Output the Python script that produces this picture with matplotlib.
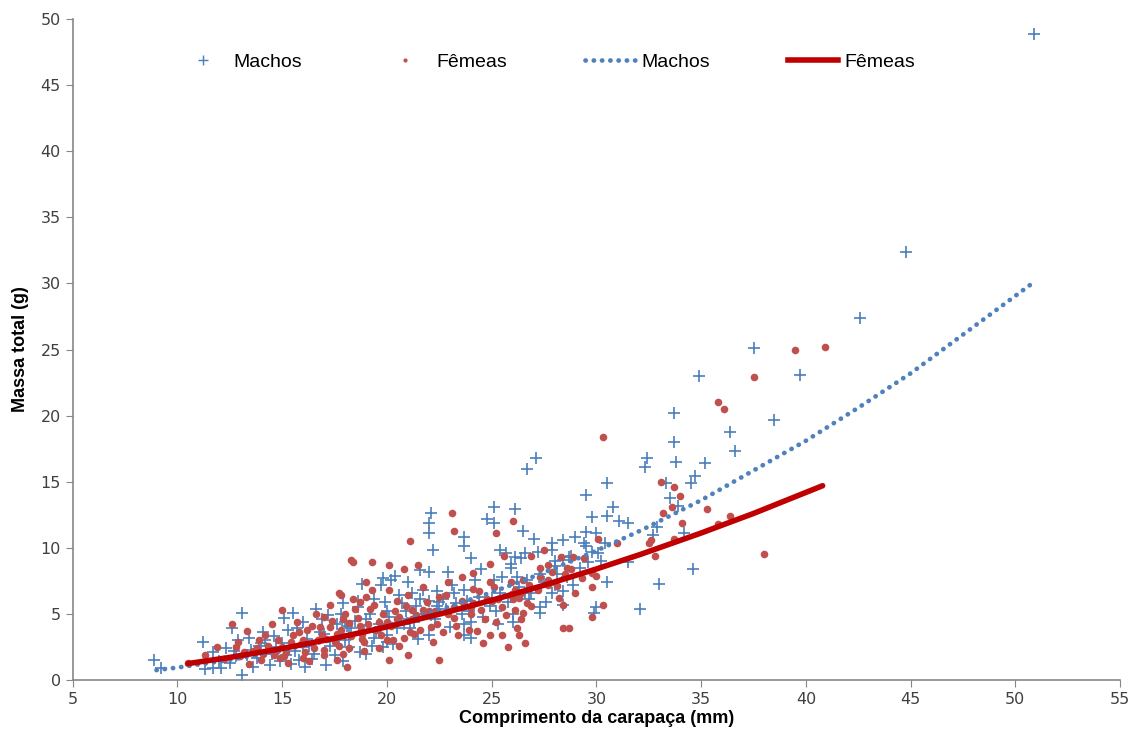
import matplotlib
matplotlib.use("Agg")
import matplotlib.pyplot as plt
from matplotlib.lines import Line2D

# carapace length (mm) / total mass (g) for males
machos_cc = [
    50.9, 44.8, 42.6, 37.5, 34.9, 39.7, 38.5, 33.7, 36.4, 33.7, 36.6, 32.4, 32.3, 33.8,
    35.2, 34.7, 34.5, 33.3, 33.5, 33.9, 32.9, 32.7, 34.2, 34.6, 33.0, 32.1, 27.1, 26.7,
    30.5, 29.5, 30.8, 29.8, 30.5, 31.1, 31.5, 26.5, 27.0, 27.9, 28.4, 29.0, 29.5, 30.0,
    29.4, 29.8, 30.1, 30.4, 31.5, 27.2, 27.9, 28.4, 28.7, 29.2, 27.9, 28.4, 28.9, 28.4,
    27.3, 27.6, 26.8, 27.3, 30.5, 30.0, 29.9,
    22.1, 22.0, 22.0, 22.2, 25.1, 26.1, 24.8, 25.1, 23.7, 23.7, 24.0, 25.4, 25.7, 26.1,
    26.4, 25.9, 22.9, 22.0, 21.6, 21.0, 20.4, 20.2, 19.8, 19.7, 18.8, 24.2, 25.1, 25.5,
    26.2, 26.7, 25.9, 23.7, 23.2, 22.4, 21.2, 21.6, 22.7, 17.9, 18.6, 19.4, 20.7, 23.7,
    23.7, 25.3, 22.0, 20.0, 19.8, 19.3, 19.0, 17.9, 18.2, 18.2,
    8.9, 9.2, 11.2, 11.3, 11.7, 12.1, 12.5, 11.7, 12.3, 12.6, 13.1, 12.9, 13.1, 13.4,
    14.1, 14.2, 15.1, 15.5, 16.0, 16.6, 15.3, 16.1, 17.1, 14.7, 13.8, 13.6,
    14.5, 15.0, 15.6, 16.2, 16.5, 17.0, 17.3, 17.6, 18.0, 18.5, 18.9, 19.2, 19.6, 20.1,
    20.5, 20.9, 21.3, 21.8, 22.3, 22.8, 23.3, 23.9, 24.4, 24.9, 25.4, 25.8, 26.3, 26.9,
    27.5, 28.1, 28.6, 16.9, 17.8, 18.3, 19.9, 21.4, 22.5, 24.6, 16.4, 15.8, 14.9, 18.7,
    20.3, 21.5, 23.0, 24.0, 26.0, 12.8, 13.5, 14.4, 15.4, 17.5, 19.4, 20.8, 22.1, 23.6,
    25.0, 26.6, 28.0, 29.6, 30.2,
    12.0, 12.7, 13.3, 13.9, 14.6, 15.2, 15.7, 16.3, 16.8, 17.2, 17.7, 18.1, 18.6, 19.0,
    19.5, 20.0, 20.6, 21.1, 21.7, 22.4, 23.1, 23.8, 24.5, 25.2, 25.9, 26.6, 27.3, 28.0,
    28.8, 29.5, 14.0, 16.0, 18.0, 20.0, 22.0, 24.0, 26.0, 28.0,
]
machos_mt = [
    48.9, 32.4, 27.4, 25.1, 23.0, 23.1, 19.7, 20.2, 18.8, 18.0, 17.3, 16.8, 16.1, 16.5,
    16.4, 15.4, 14.9, 14.9, 13.8, 13.2, 11.6, 11.0, 11.1, 8.4, 7.3, 5.4, 16.8, 16.0,
    14.9, 14.0, 13.1, 12.3, 12.4, 12.0, 11.9, 11.3, 10.7, 10.4, 10.6, 10.8, 11.2, 11.1,
    10.4, 9.7, 9.6, 10.4, 8.9, 9.7, 9.8, 9.1, 9.3, 8.5, 6.6, 6.7, 7.2, 5.7,
    5.5, 5.9, 6.1, 5.1, 7.4, 5.5, 5.1,
    12.6, 11.9, 11.1, 9.8, 13.1, 12.9, 12.2, 11.9, 10.8, 10.1, 9.2, 9.8, 9.6, 9.3,
    9.2, 8.8, 8.2, 8.2, 8.3, 7.4, 7.9, 7.6, 7.7, 7.2, 7.3, 7.6, 7.6, 7.8,
    7.8, 7.6, 8.5, 6.8, 6.6, 6.7, 6.6, 6.1, 6.1, 5.8, 5.5, 6.1, 5.8, 4.2,
    3.4, 4.2, 3.4, 3.4, 2.5, 2.6, 2.0, 1.4, 2.5, 3.5,
    1.5, 0.9, 2.9, 0.8, 0.9, 0.9, 1.3, 2.1, 2.4, 3.9, 5.1, 3.0, 0.4, 3.2,
    3.6, 3.0, 4.7, 5.1, 4.4, 5.4, 3.8, 1.0, 1.1, 2.5, 1.7, 1.0,
    2.0, 2.8, 2.2, 3.1, 2.0, 3.5, 2.6, 4.2, 3.0, 4.5, 3.8, 5.0, 4.2, 4.8,
    3.9, 5.2, 4.4, 5.0, 4.6, 5.4, 5.8, 5.2, 6.3, 5.6, 6.6, 5.9, 7.0, 6.6,
    7.4, 8.0, 7.8, 4.6, 5.0, 3.9, 5.9, 5.6, 5.9, 4.8, 1.6, 1.5, 1.4, 2.1,
    2.7, 3.1, 4.0, 4.4, 5.0, 1.8, 2.3, 1.1, 1.2, 1.9, 3.2, 4.2, 4.9, 5.0,
    6.2, 6.6, 8.6, 8.9, 9.0,
    1.4, 2.2, 1.9, 2.6, 3.3, 1.9, 3.9, 2.6, 3.6, 4.9, 3.2, 4.1, 6.0, 4.6,
    3.6, 5.2, 6.4, 3.9, 6.8, 5.6, 7.2, 6.0, 8.4, 5.2, 6.3, 9.6, 8.0, 7.2,
    9.4, 10.1, 2.8, 2.5, 4.4, 2.9, 6.0, 3.2, 4.4, 9.0,
]

# carapace length (mm) / total mass (g) for females
femeas_cc = [
    40.9, 39.5, 37.5, 35.8, 36.1, 30.3, 33.1, 33.7, 34.0, 33.6, 35.3, 33.2, 34.1, 36.4,
    35.8, 32.6, 33.7, 32.8, 38.0, 32.5, 30.1, 31.0, 26.9, 28.3, 28.9, 28.6, 27.9, 27.3,
    29.8, 30.0, 29.8, 29.0, 28.4, 30.3, 29.8, 28.4, 28.7, 26.6, 26.5, 26.7,
    23.1, 23.2, 21.1, 18.3, 18.4, 19.3, 20.1, 20.8, 21.5, 25.2, 26.0, 24.9, 24.1, 22.9,
    19.3, 19.0, 20.1, 17.8, 18.4, 21.9, 24.0, 24.8, 26.0, 26.4, 26.1, 23.9, 24.3, 24.9,
    25.5, 26.2, 26.3, 25.8, 22.5, 21.1, 21.0, 20.1, 18.1, 17.6, 18.8, 18.2, 21.2,
    12.6, 13.3, 14.5, 15.0, 11.9, 11.3, 10.5, 12.8, 17.3, 17.7, 17.0,
    13.0, 13.6, 14.0, 14.3, 14.8, 15.2, 15.5, 15.9, 16.2, 16.5, 16.8, 17.1, 17.4, 17.7,
    18.0, 18.3, 18.6, 18.9, 19.2, 19.5, 19.8, 20.2, 20.5, 20.8, 21.2, 21.6, 22.0, 22.4,
    22.8, 23.2, 23.6, 24.0, 24.4, 24.7, 25.1, 25.5, 25.9, 26.3, 26.8, 27.2, 27.7, 28.1,
    28.5, 29.3, 16.0, 15.3, 14.6, 17.9, 19.6, 20.6, 22.2, 23.4, 25.2, 16.6, 19.0, 21.7,
    23.6, 25.6, 27.5, 13.9, 15.7, 17.0, 18.7, 20.4,
    12.2, 12.9, 13.4, 13.8, 14.2, 14.7, 15.1, 15.4, 15.8, 16.1, 16.4, 16.7, 17.0, 17.3,
    17.6, 17.9, 18.2, 18.5, 18.8, 19.1, 19.4, 19.7, 20.0, 20.3, 20.6, 20.9, 21.3, 21.7,
    22.1, 22.5, 22.9, 23.3, 23.7, 24.1, 24.5, 24.9, 25.3, 25.7, 26.1, 26.5, 26.9, 27.3,
    27.7, 28.2, 28.8, 29.4, 14.1, 15.0, 16.0, 16.9, 17.8, 18.7, 19.6, 20.5, 21.4, 22.3,
    23.2, 24.1, 25.0, 25.9, 26.8, 27.7, 13.2, 14.9, 16.3, 17.5, 18.9, 20.0, 21.0, 22.7,
    24.6, 26.4,
]
femeas_mt = [
    25.2, 25.0, 22.9, 21.0, 20.5, 18.4, 15.0, 14.6, 13.9, 13.1, 12.9, 12.6, 11.9, 12.4,
    11.8, 10.6, 10.7, 9.4, 9.5, 10.4, 10.7, 10.4, 9.4, 9.3, 9.3, 8.5, 8.2, 8.5,
    8.1, 7.9, 7.0, 6.6, 5.7, 5.7, 4.8, 3.9, 3.9, 2.8, 5.1, 5.8,
    12.6, 11.3, 10.5, 9.1, 8.9, 8.9, 8.7, 8.4, 8.7, 11.1, 12.0, 8.8, 8.1, 7.4,
    6.8, 6.3, 6.8, 6.4, 6.1, 5.9, 5.5, 6.1, 6.1, 6.6, 5.3, 3.8, 3.7, 3.4,
    3.4, 3.9, 3.4, 2.5, 1.5, 3.6, 1.9, 1.5, 1.0, 1.5, 3.5, 4.3, 5.3,
    4.2, 3.7, 4.2, 5.3, 2.5, 1.9, 1.3, 2.5, 5.7, 6.6, 1.9,
    1.8, 2.2, 1.5, 2.6, 3.0, 2.1, 3.4, 2.7, 3.8, 2.4, 4.0, 3.1, 4.5, 2.6,
    5.0, 3.3, 4.7, 2.9, 5.4, 3.8, 5.0, 4.1, 6.0, 3.2, 4.6, 3.8, 5.2, 4.2,
    6.4, 4.7, 6.0, 5.0, 6.7, 4.6, 7.0, 5.5, 7.4, 6.2, 7.2, 6.8, 7.6, 7.1,
    8.0, 7.7, 1.7, 1.3, 1.9, 2.0, 2.4, 2.6, 2.9, 3.4, 4.4, 5.0, 7.4, 7.0,
    7.8, 9.4, 9.8, 3.0, 4.4, 4.8, 5.9, 5.2,
    1.6, 2.9, 1.2, 2.4, 3.4, 2.2, 1.8, 2.9, 3.6, 2.1, 4.1, 3.0, 2.3, 4.0,
    3.5, 4.6, 2.4, 5.4, 3.1, 4.2, 5.7, 3.4, 4.4, 3.0, 4.8, 5.6, 3.5, 5.3,
    4.0, 6.3, 5.0, 4.1, 5.6, 6.9, 5.3, 7.4, 6.1, 4.9, 6.8, 7.6, 5.6, 7.8,
    8.7, 6.2, 8.4, 9.2, 2.0, 2.5, 3.0, 3.4, 3.8, 4.1, 4.4, 4.6, 4.9, 5.2,
    5.5, 5.8, 6.0, 6.4, 6.9, 7.2, 2.1, 1.7, 1.4, 2.9, 2.2, 3.0, 6.4, 3.6,
    2.8, 4.6,
]

# power trend lines
tend_machos_cc = [9.0, 10.0, 12.5, 15.0, 17.5, 20.0, 22.5, 25.0, 27.5, 30.0, 32.1, 35.0,
                  40.0, 42.6, 45.0, 50.8]
tend_machos_mt = [0.75, 0.94, 1.52, 2.24, 3.10, 4.13, 5.30, 6.63, 8.13, 9.78, 11.3, 13.6,
                  18.1, 20.7, 23.2, 30.0]
tend_femeas_cc = [10.5, 12.5, 15.0, 17.5, 20.0, 22.5, 25.0, 27.5, 30.0, 32.1, 35.0, 37.5, 40.8]
tend_femeas_mt = [1.24, 1.71, 2.38, 3.15, 4.02, 4.98, 6.03, 7.17, 8.40, 9.5, 11.12, 12.6, 14.7]

azul = "#4a7ebb"
azul_linha = "#4f81bd"
vermelho = "#c0504d"
vermelho_linha = "#c00000"
pontilhado = (0, (0.05, 1.7))

plt.rcParams['font.family'] = ['Liberation Sans', 'DejaVu Sans']

fig = plt.figure(figsize=(11.36, 7.38), dpi=100)
ax = fig.add_axes([0.064, 0.0786, 0.922, 0.8955])

ax.scatter(machos_cc, machos_mt, marker='+', s=75, linewidths=1.2, color=azul, zorder=2)
ax.scatter(femeas_cc, femeas_mt, marker='o', s=30, linewidths=0, color=vermelho, zorder=3)
ax.plot(tend_machos_cc, tend_machos_mt, linestyle=pontilhado, linewidth=3.4,
        dash_capstyle='round', color=azul_linha, zorder=4)
ax.plot(tend_femeas_cc, tend_femeas_mt, linewidth=4, color=vermelho_linha,
        solid_capstyle='round', zorder=5)

ax.set_xlim(5, 55)
ax.set_ylim(0, 50)
ax.set_xticks(range(5, 56, 5))
ax.set_yticks(range(0, 51, 5))
for lado in ['top', 'right']:
    ax.spines[lado].set_visible(False)
for lado in ['left', 'bottom']:
    ax.spines[lado].set_color('#868686')
    ax.spines[lado].set_linewidth(1.2)
ax.tick_params(direction='out', length=5, color='#868686', labelcolor='#404040')
for lbl in ax.get_xticklabels() + ax.get_yticklabels():
    lbl.set_family(['DejaVu Sans'])
    lbl.set_fontsize(11.5)

ax.set_xlabel('Comprimento da carapaça (mm)', fontsize=13, fontweight='bold', labelpad=2)
ax.set_ylabel('Massa total (g)', fontsize=13, fontweight='bold', labelpad=8)

alcas = [
    Line2D([], [], marker='+', linestyle='none', color=azul, markersize=7, markeredgewidth=1),
    Line2D([], [], marker='o', linestyle='none', color=vermelho, markersize=3, markeredgewidth=0),
    Line2D([], [], linestyle=pontilhado, linewidth=3.4, dash_capstyle='round', color=azul_linha),
    Line2D([], [], linewidth=4, color=vermelho_linha),
]
ax.legend(alcas, ['Machos', 'Fêmeas', 'Machos', 'Fêmeas'], ncol=4, frameon=False,
          loc='center', bbox_to_anchor=(0.452, 0.935), fontsize=14,
          handlelength=2.6, handletextpad=0.3, columnspacing=4.0)

fig.savefig('out.png', dpi=100)
